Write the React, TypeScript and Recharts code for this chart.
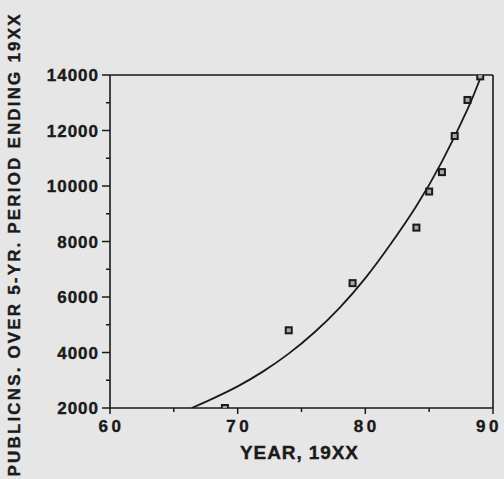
import React from 'react';
import { ComposedChart, Line, Scatter, XAxis, YAxis, ReferenceLine } from 'recharts';

// Observed data points (year 19XX, publications over 5-yr period)
const pointYears = [69, 74, 79, 84, 85, 86, 87, 88, 89];
const pointValues = [2000, 4800, 6500, 8500, 9800, 10500, 11800, 13100, 13950];

// Fitted curve
const fitYears = [66.4, 68, 70, 72, 74, 76, 78, 80, 82, 84, 86, 88, 89.1];
const fitValues = [2000, 2330, 2780, 3320, 3960, 4720, 5620, 6680, 7920, 9280, 10880, 12760, 14000];

const xTicks = [60, 65, 70, 75, 80, 85, 90];
const xLabelTicks = [60, 70, 80, 90];
const yTicks = [2000, 3000, 4000, 5000, 6000, 7000, 8000, 9000, 10000, 11000, 12000, 13000, 14000];
const yLabelTicks = [2000, 4000, 6000, 8000, 10000, 12000, 14000];

const xTitle = 'YEAR, 19XX';
const yTitle = 'PUBLICNS. OVER 5-YR. PERIOD ENDING 19XX';

const pointData = pointYears.map((year, i) => ({ year, value: pointValues[i] }));
const fitData = fitYears.map((year, i) => ({ year, value: fitValues[i] }));

const INK = '#1a1a1a';
const FONT = '"Liberation Sans", Arial, Helvetica, sans-serif';

const XTick = (props: any) => {
  const { x, y, payload } = props;
  const major = xLabelTicks.includes(payload.value);
  const lx = Math.min(x + 1.5, 489);
  return (
    <g>
      <line x1={x} x2={x} y1={y} y2={y + (major ? 6 : 4)} stroke={INK} strokeWidth={1.5} />
      {major && (
        <text x={lx} y={y + 23.5} textAnchor="middle" fontSize={17} fontWeight="bold"
          letterSpacing={3.5} fill={INK} stroke={INK} strokeWidth={0.4} fontFamily={FONT}>
          {payload.value}
        </text>
      )}
    </g>
  );
};

const YTick = (props: any) => {
  const { x, y, payload } = props;
  const major = yLabelTicks.includes(payload.value);
  return (
    <g>
      <line x1={x - (major ? 8 : 4)} x2={x} y1={y} y2={y} stroke={INK} strokeWidth={1.5} />
      {major && (
        <text x={x - 11} y={y + 6} textAnchor="end" fontSize={17} fontWeight="bold"
          letterSpacing={1} fill={INK} stroke={INK} strokeWidth={0.4} fontFamily={FONT}>
          {payload.value}
        </text>
      )}
    </g>
  );
};

const XTitle = () => (
  <text x={299} y={459} textAnchor="middle" fontSize={19} fontWeight="bold" fill={INK}
    stroke={INK} strokeWidth={0.4} fontFamily={FONT} textLength={118} lengthAdjust="spacing">
    {xTitle}
  </text>
);

const YTitle = () => (
  <text x={19.5} y={245.5} transform="rotate(-90, 19.5, 245.5)" textAnchor="middle" fontSize={17}
    fontWeight="bold" fill={INK} stroke={INK} strokeWidth={0.4} fontFamily={FONT}
    textLength={462} lengthAdjust="spacing">
    {yTitle}
  </text>
);

const SquareDot = (props: any) => {
  const { cx, cy } = props;
  if (cx == null || cy == null) return null;
  return (
    <rect x={cx - 3} y={cy - 3} width={6} height={6} fill="#a8a8a8" stroke={INK} strokeWidth={2} />
  );
};

export default function App() {
  return (
    <div style={{ position: 'fixed', left: 0, top: 0, width: 504, height: 479, background: '#e6e6e6' }}>
      <ComposedChart width={504} height={479} margin={{ top: 75, right: 11, bottom: 0, left: 0 }}>
        <XAxis
          type="number"
          dataKey="year"
          domain={[60, 90]}
          ticks={xTicks}
          interval={0}
          allowDataOverflow
          height={71}
          tickSize={0}
          tickMargin={0}
          tickLine={false}
          axisLine={{ stroke: INK, strokeWidth: 1.6 }}
          tick={<XTick />}
          label={<XTitle />}
        />
        <YAxis
          type="number"
          dataKey="value"
          domain={[2000, 14000]}
          ticks={yTicks}
          interval={0}
          allowDataOverflow
          width={110}
          tickSize={0}
          tickMargin={0}
          tickLine={false}
          axisLine={{ stroke: INK, strokeWidth: 1.6 }}
          tick={<YTick />}
          label={<YTitle />}
        />
        <ReferenceLine y={14000} stroke={INK} strokeWidth={1.6} />
        <ReferenceLine x={90} stroke={INK} strokeWidth={1.6} />
        <Line data={fitData} dataKey="value" type="natural" stroke={INK} strokeWidth={1.8}
          dot={false} activeDot={false} isAnimationActive={false} />
        <Scatter data={pointData} dataKey="value" shape={<SquareDot />} isAnimationActive={false} />
      </ComposedChart>
    </div>
  );
}
